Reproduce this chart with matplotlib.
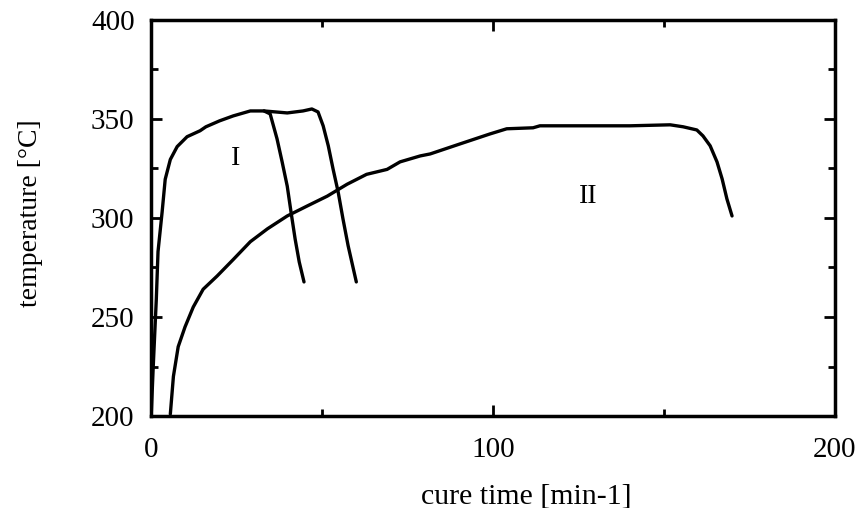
import numpy as np
import matplotlib.pyplot as plt
from matplotlib.ticker import MultipleLocator

plt.rcParams['font.family'] = ['Liberation Serif', 'DejaVu Serif']

# run I, first sample (short dwell)
t_a = [0.0, 0.6, 1.5, 2.0, 3.2, 4.1, 5.6, 7.6, 10.5, 14.3, 16.0, 20.0, 24.0, 29.0, 33.0,
       34.8, 36.8, 38.3, 39.8, 40.9, 42.1, 43.3, 44.7]
T_a = [200.0, 225.0, 259.0, 283.0, 303.0, 319.5, 329.5, 336.0, 341.0, 344.0, 346.0, 349.0,
       351.5, 354.0, 354.0,
       352.5, 340.0, 328.3, 316.0, 303.0, 289.4, 277.8, 267.7]

# run I, second sample (longer dwell)
t_b = [33.0, 39.8, 44.4, 47.0, 48.8, 50.3, 51.8, 53.2, 54.7, 56.1, 57.6, 60.0]
T_b = [354.0, 353.0, 354.0, 355.0, 353.5, 346.5, 336.4, 324.7, 313.0, 299.5, 286.0, 267.7]

# run II
t_c = [5.6, 6.5, 7.9, 9.9, 12.3, 15.2, 19.3, 24.0, 29.0, 34.0, 39.8, 45.6, 51.5, 57.3,
       63.0, 69.0, 72.8, 78.7, 81.6, 90.4, 99.1, 104.0, 111.7, 113.7, 140.0, 151.8,
       155.6, 159.6, 161.4, 163.5, 165.5, 167.0, 168.4, 169.9]
T_c = [201.0, 220.0, 235.0, 245.0, 255.0, 264.0, 270.7, 279.0, 288.0, 294.5, 301.0, 306.0,
       311.0, 317.0, 322.0, 324.5, 328.3, 331.3, 332.3, 337.4, 342.4, 345.0, 345.5, 346.5,
       346.5, 347.0, 346.0, 344.4, 341.4, 336.4, 328.3, 319.7, 309.6, 301.0]

fig = plt.figure(figsize=(8.59, 5.08), dpi=100)
ax = fig.add_axes([0.176, 0.181, 0.796, 0.78])

for t, T in [(t_a, T_a), (t_b, T_b), (t_c, T_c)]:
    ax.plot(t, T, color='black', lw=2.4, solid_capstyle='round', solid_joinstyle='round')

ax.text(24.6, 330, 'I', fontsize=20, ha='center', va='center')
ax.text(127.8, 311, 'II', fontsize=20, ha='center', va='center')

ax.set_xlim(0, 200)
ax.set_ylim(200, 400)
ax.xaxis.set_major_locator(MultipleLocator(100))
ax.xaxis.set_minor_locator(MultipleLocator(50))
ax.yaxis.set_major_locator(MultipleLocator(50))
ax.yaxis.set_minor_locator(MultipleLocator(25))
ax.tick_params(which='both', direction='in', top=True, right=True, width=2, labelsize=21)
ax.tick_params(which='major', length=8)
ax.tick_params(axis='x', which='major', pad=15)
ax.tick_params(axis='y', which='major', pad=12)
ax.tick_params(which='minor', length=5)
for s in ax.spines.values():
    s.set_linewidth(2.5)

ax.set_xlabel('cure time [min-1]', fontsize=21.5, va='center')
ax.set_ylabel('temperature [°C]', fontsize=20, va='center')
ax.xaxis.set_label_coords(0.548, -0.202)
ax.yaxis.set_label_coords(-0.177, 0.513)

fig.savefig('out.png', dpi=100)
